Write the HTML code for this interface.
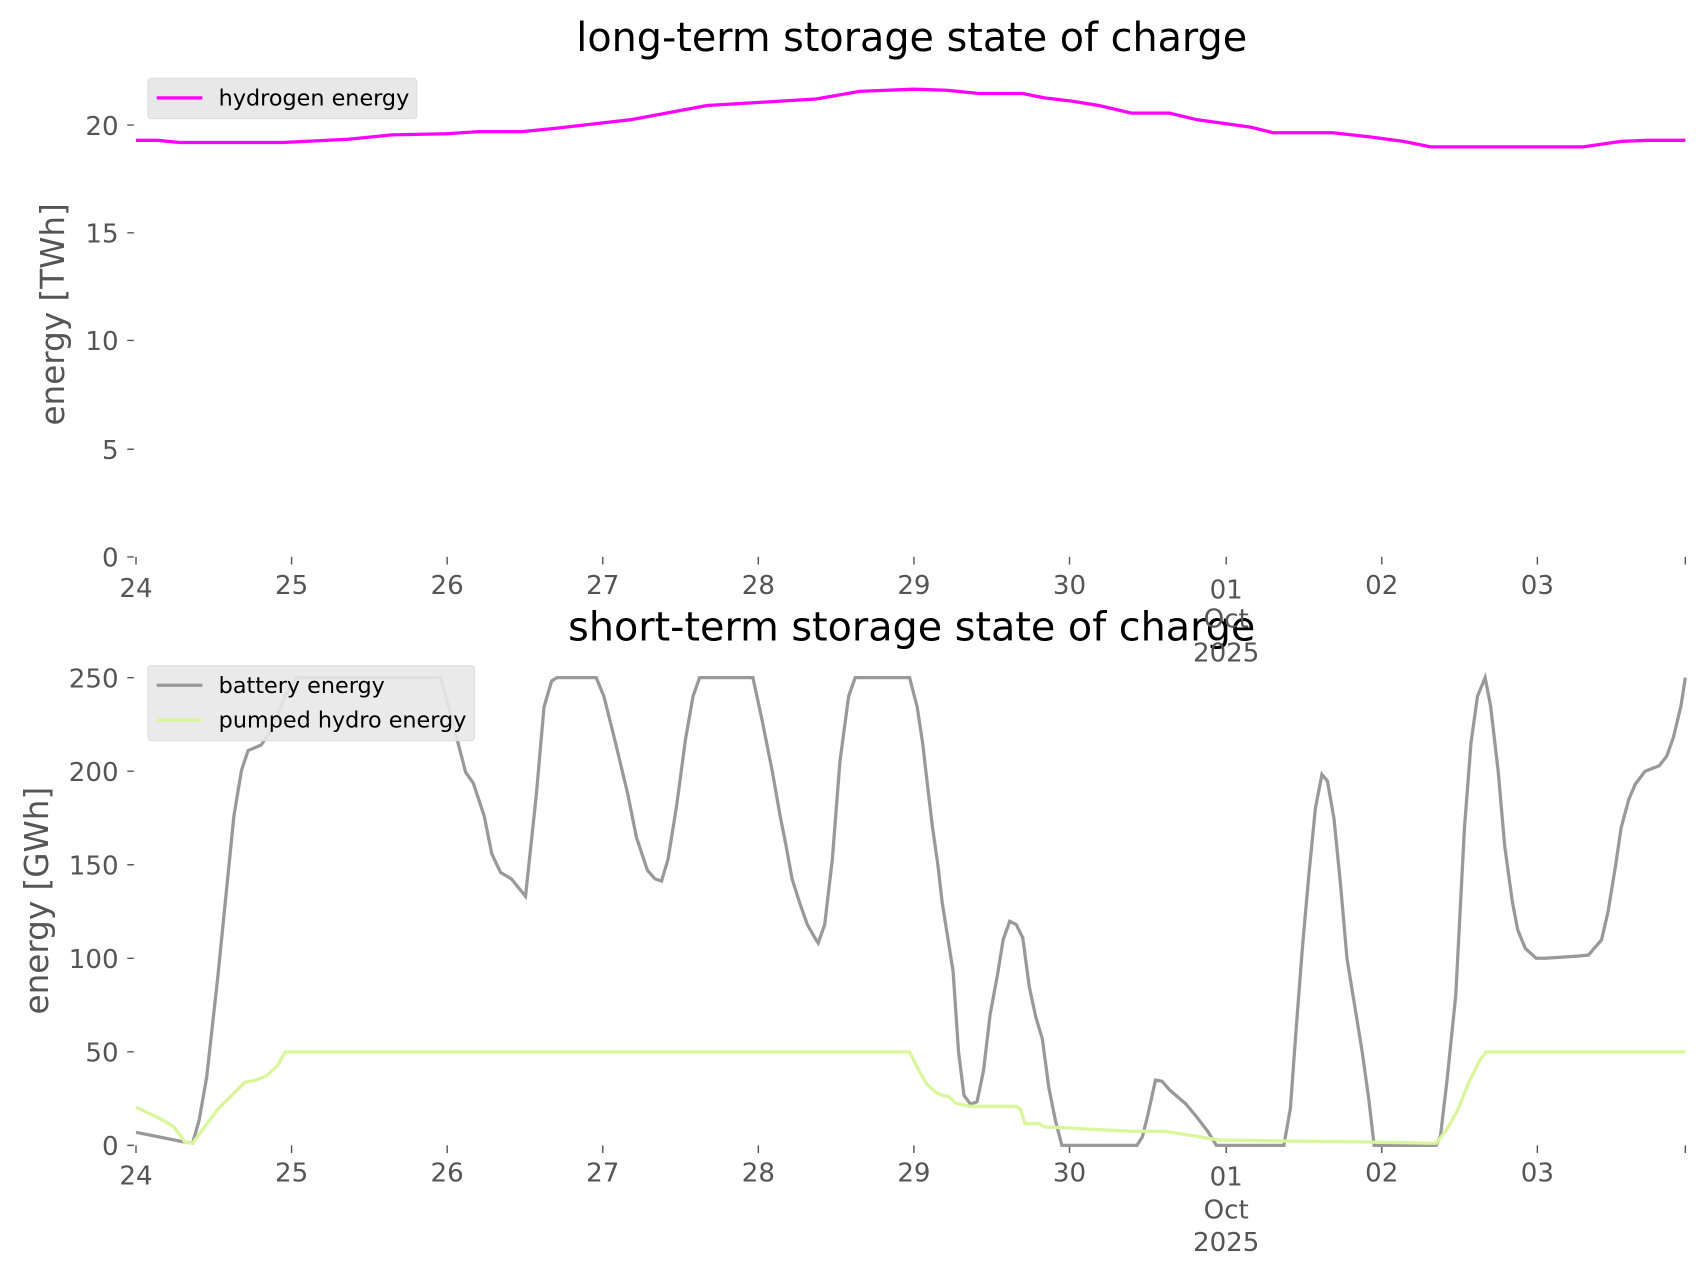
<!DOCTYPE html>
<html><head><style>body{margin:0;background:#fff}svg{display:block}text{font-family:"DejaVu Sans","Liberation Sans",sans-serif;fill:#555}</style></head>
<body>
<svg width="1706" height="1277" viewBox="0 0 1568 1174" preserveAspectRatio="none" xmlns="http://www.w3.org/2000/svg">
<rect width="1568" height="1174" fill="#fff"/>
<g text-anchor="middle">
<text x="838" y="47" font-size="36.5" style="fill:#000">long-term storage state of charge</text>
<text x="838" y="589" font-size="36.5" style="fill:#000">short-term storage state of charge</text>
</g>
<g stroke="#555" stroke-width="1.3">
<path d="M117 512h6M117 413h6M117 313h6M117 214h6M117 115h6"/>
<path d="M117 1053h6M117 967h6M117 881h6M117 795h6M117 709h6M117 623h6"/>
<path d="M125 512v7M268 512v7M411 512v7M554 512v7M697 512v7M840 512v7M983 512v7M1127 512v7M1270 512v7M1413 512v7M1549 512v7"/>
<path d="M125 1053v7M268 1053v7M411 1053v7M554 1053v7M697 1053v7M840 1053v7M983 1053v7M1127 1053v7M1270 1053v7M1413 1053v7M1549 1053v7"/>
</g>
<g font-size="24" text-anchor="end">
<text x="109" y="521">0</text><text x="109" y="422">5</text><text x="109" y="322">10</text><text x="109" y="223">15</text><text x="109" y="124">20</text>
<text x="109" y="1062">0</text><text x="109" y="976">50</text><text x="109" y="890">100</text><text x="109" y="804">150</text><text x="109" y="718">200</text><text x="109" y="632">250</text>
</g>
<g font-size="24" text-anchor="middle">
<text x="125" y="549">24</text><text x="268" y="546">25</text><text x="411" y="546">26</text><text x="554" y="546">27</text><text x="697" y="546">28</text><text x="840" y="546">29</text><text x="983" y="546">30</text><text x="1127" y="550">01</text><text x="1127" y="577">Oct</text><text x="1127" y="608">2025</text><text x="1270" y="546">02</text><text x="1413" y="546">03</text>
<text x="125" y="1089">24</text><text x="268" y="1086">25</text><text x="411" y="1086">26</text><text x="554" y="1086">27</text><text x="697" y="1086">28</text><text x="840" y="1086">29</text><text x="983" y="1086">30</text><text x="1127" y="1090">01</text><text x="1127" y="1120">Oct</text><text x="1127" y="1150">2025</text><text x="1270" y="1086">02</text><text x="1413" y="1086">03</text>
</g>
<text transform="translate(59,289) rotate(-90)" font-size="30" text-anchor="middle">energy [TWh]</text>
<text transform="translate(44,828) rotate(-90)" font-size="30" text-anchor="middle">energy [GWh]</text>
<polyline fill="none" stroke="#ff00ff" stroke-width="3" points="125,129 145,129 165,131 260,131 320,128 360,124 410,123 440,121 480,121 510,118 580,110 650,97 700,94 750,91 790,84 815,83 840,82 870,83 900,86 940,86 960,90 985,93 1010,97 1040,104 1075,104 1100,110 1150,117 1170,122 1225,122 1260,126 1290,130 1315,135 1455,135 1490,130 1515,129 1549,129"/>
<polyline fill="none" stroke="#999" stroke-width="3" points="125,1041 170,1050 177,1051 183,1030 190,990 200,900 210,800 215,750 222,708 228,690 240,685 250,670 262,640 272,623 405,623 415,660 428,710 435,720 445,750 452,785 460,802 470,808 483,824 493,730 500,650 507,626 512,623 548,623 555,640 565,680 577,730 585,770 595,800 602,808 608,810 614,790 622,740 630,680 637,640 643,623 692,623 700,660 710,710 717,750 722,775 728,808 735,830 742,850 750,864 752,867 758,850 765,790 772,700 780,640 786,623 836,623 843,650 848,683 852,718 857,760 862,795 866,830 870,855 876,893 881,967 886,1007 892,1015 898,1013 904,984 910,933 917,895 922,864 928,847 934,850 940,862 946,907 952,935 958,955 964,1000 970,1030 976,1053 1045,1053 1050,1045 1055,1025 1062,993 1068,994 1075,1002 1090,1015 1100,1027 1110,1040 1118,1053 1180,1053 1186,1019 1191,950 1197,872 1203,804 1209,743 1215,712 1220,718 1226,752 1232,812 1238,881 1245,924 1252,967 1258,1010 1263,1053 1320,1053 1324,1044 1330,993 1338,915 1346,761 1352,683 1358,640 1365,623 1370,649 1377,709 1383,778 1390,829 1395,855 1402,872 1412,881 1420,881 1450,879 1460,878 1465,872 1472,864 1478,838 1485,795 1490,761 1497,735 1503,721 1512,709 1525,704 1532,695 1538,678 1545,649 1549,623"/>
<polyline fill="none" stroke="#d8f79b" stroke-width="3" points="125,1018 140,1025 150,1030 160,1036 170,1050 177,1051 185,1040 200,1020 215,1005 225,995 235,993 245,989 255,980 262,967 836,967 845,985 852,997 860,1004 866,1007 872,1008 878,1014 890,1017 934,1017 938,1020 942,1033 955,1033 960,1036 985,1037 1000,1038 1040,1040 1070,1040 1090,1043 1120,1048 1180,1049 1260,1050 1320,1051 1330,1038 1340,1020 1350,995 1360,975 1366,967 1549,967"/>
<rect x="136" y="72" width="247" height="37" rx="3" fill="#e8e8e8" stroke="#ddd"/>
<line x1="144" y1="90" x2="186" y2="90" stroke="#ff00ff" stroke-width="3"/>
<text x="201" y="97" font-size="20.5" style="fill:#000">hydrogen energy</text>
<rect x="136" y="612" width="300" height="69" rx="3" fill="#e8e8e8" fill-opacity="0.9" stroke="#ddd"/>
<line x1="144" y1="630" x2="186" y2="630" stroke="#999" stroke-width="3"/>
<text x="201" y="637" font-size="20.5" style="fill:#000">battery energy</text>
<line x1="144" y1="662" x2="186" y2="662" stroke="#d8f79b" stroke-width="3"/>
<text x="201" y="669" font-size="20.5" style="fill:#000">pumped hydro energy</text>
</svg>
</body></html>
